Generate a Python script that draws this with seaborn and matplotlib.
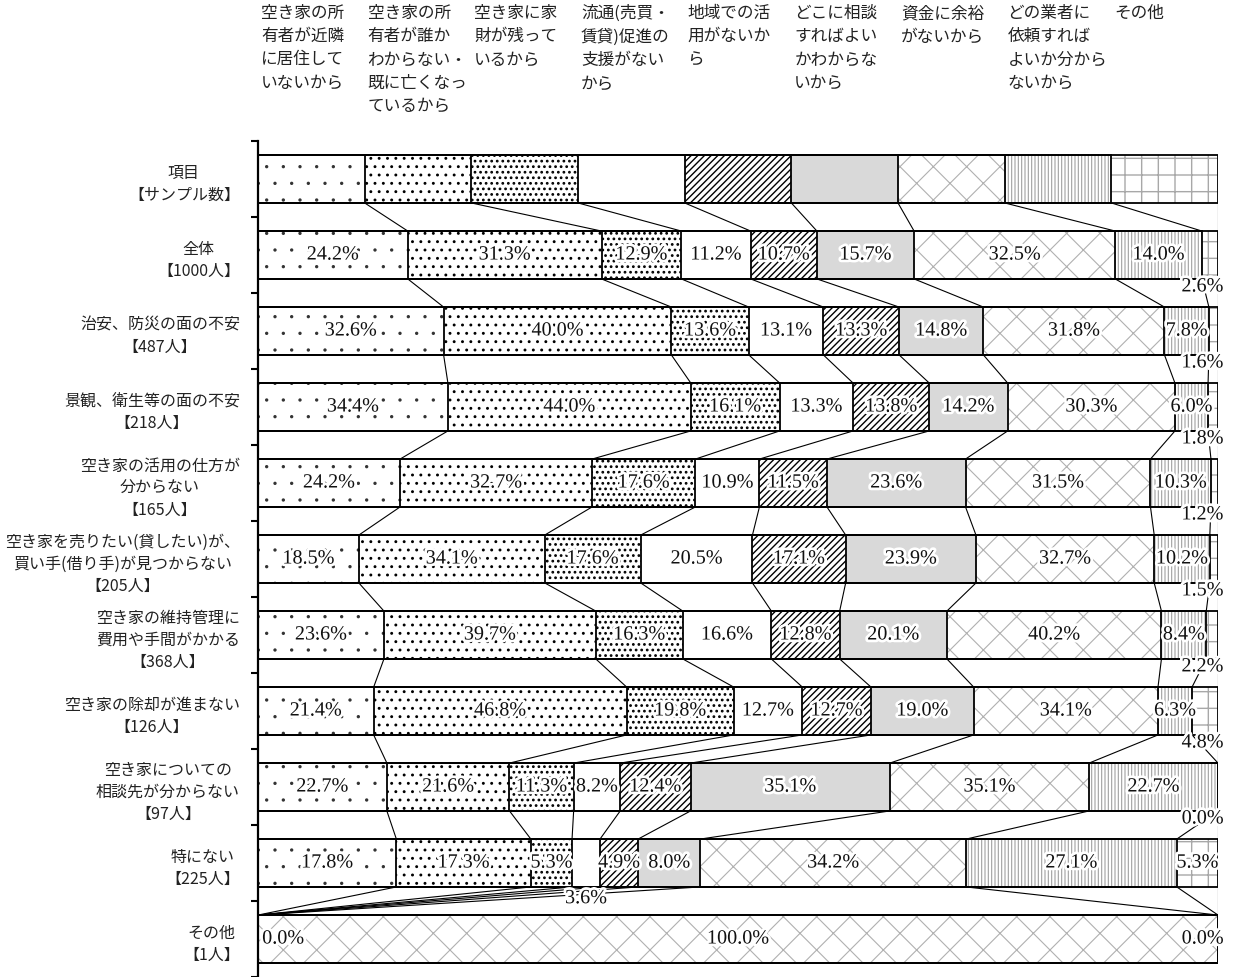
import numpy as np
import pandas as pd
import matplotlib
matplotlib.use('Agg')
import matplotlib.pyplot as plt
import matplotlib.patheffects as pe
import matplotlib.transforms as mtransforms
import seaborn as sns

# column headers (reasons)
header_labels = [
    '空き家の所\n有者が近隣\nに居住して\nいないから',
    '空き家の所\n有者が誰か\nわからない・\n既に亡くなっ\nているから',
    '空き家に家\n財が残って\nいるから',
    '流通(売買・\n賃貸)促進の\n支援がない\nから',
    '地域での活\n用がないか\nら',
    'どこに相談\nすればよい\nかわからな\nいから',
    '資金に余裕\nがないから',
    'どの業者に\n依頼すれば\nよいか分から\nないから',
    'その他',
]

row_labels = [
    '項目\n【サンプル数】',
    '全体\n【1000人】',
    '治安、防災の面の不安\n【487人】',
    '景観、衛生等の面の不安\n【218人】',
    '空き家の活用の仕方が\n分からない\n【165人】',
    '空き家を売りたい(貸したい)が、\n買い手(借り手)が見つからない\n【205人】',
    '空き家の維持管理に\n費用や手間がかかる\n【368人】',
    '空き家の除却が進まない\n【126人】',
    '空き家についての\n相談先が分からない\n【97人】',
    '特にない\n【225人】',
    'その他\n【1人】',
]

# legend row: every item drawn with the same width
legend_row = [1, 1, 1, 1, 1, 1, 1, 1, 1]
zentai = [24.2, 31.3, 12.9, 11.2, 10.7, 15.7, 32.5, 14.0, 2.6]
chian = [32.6, 40.0, 13.6, 13.1, 13.3, 14.8, 31.8, 7.8, 1.6]
keikan = [34.4, 44.0, 16.1, 13.3, 13.8, 14.2, 30.3, 6.0, 1.8]
katsuyou = [24.2, 32.7, 17.6, 10.9, 11.5, 23.6, 31.5, 10.3, 1.2]
uritai = [18.5, 34.1, 17.6, 20.5, 17.1, 23.9, 32.7, 10.2, 1.5]
iji = [23.6, 39.7, 16.3, 16.6, 12.8, 20.1, 40.2, 8.4, 2.2]
jokyaku = [21.4, 46.8, 19.8, 12.7, 12.7, 19.0, 34.1, 6.3, 4.8]
soudan = [22.7, 21.6, 11.3, 8.2, 12.4, 35.1, 35.1, 22.7, 0.0]
tokuni = [17.8, 17.3, 5.3, 3.6, 4.9, 8.0, 34.2, 27.1, 5.3]
sonota = [0.0, 0.0, 0.0, 0.0, 0.0, 0.0, 100.0, 0.0, 0.0]

values = np.array([legend_row, zentai, chian, keikan, katsuyou, uritai,
                   iji, jokyaku, soudan, tokuni, sonota], dtype=float)

fills = ['white', 'white', 'white', 'white', 'white', '#d9d9d9', 'white', 'white', 'white']
hatches = ['.', '..', '...', '', '/////', '', 'x', '|||||', '+']
hatch_cols = ['#333333', 'black', 'black', 'black', 'black', 'black', '#b0b0b0', '#a0a0a0', '#a8a8a8']
hatch_lw = [0.0, 0.9, 1.2, 0.8, 1.0, 0.8, 0.8, 0.8, 1.0]

sns.set_theme(style='ticks')
plt.rcParams['font.family'] = ['Noto Sans CJK JP', 'DejaVu Sans']

fig = plt.figure(figsize=(12.36, 9.78), dpi=100)
ax = fig.add_axes([258 / 1236, 0, 960 / 1236, 836 / 978])

n = len(row_labels)
share = values / values.sum(axis=1, keepdims=True) * 100
cum = share.cumsum(axis=1)
bar_h = 0.63

# stacked bars: draw cumulative ends from the last segment to the first
for k in range(8, -1, -1):
    plt.rcParams['hatch.linewidth'] = hatch_lw[k]
    df = pd.DataFrame({'row': row_labels, 'end': cum[:, k]})
    sns.barplot(data=df, x='end', y='row', order=row_labels, orient='h',
                width=bar_h, errorbar=None, ax=ax)
    for p in ax.containers[-1]:
        p.set_facecolor(fills[k])
        p.set_hatch(hatches[k])
        p.set_edgecolor(hatch_cols[k])
        p.set_linewidth(0)
        if hasattr(p, 'set_hatch_linewidth'):
            p.set_hatch_linewidth(hatch_lw[k])

# outlines
for k in range(9):
    df = pd.DataFrame({'row': row_labels, 'end': cum[:, k]})
    sns.barplot(data=df, x='end', y='row', order=row_labels, orient='h',
                width=bar_h, errorbar=None, ax=ax)
    for p in ax.containers[-1]:
        p.set_facecolor('none')
        p.set_edgecolor('black')
        p.set_linewidth(1.3)

# connector lines between neighbouring bars
h = bar_h / 2
for i in range(n - 1):
    for k in range(9):
        ax.plot([cum[i, k], cum[i + 1, k]], [i + h, i + 1 - h], color='black', lw=0.8, zorder=1)

# value labels
halo = [pe.withStroke(linewidth=4, foreground='white')]
num_kw = dict(family=['Liberation Serif'], fontsize=14.5, color='#111111', path_effects=halo, zorder=5)
for i in range(1, n):
    for k in range(9):
        v = values[i, k]
        w = share[i, k]
        c = cum[i, k] - w / 2
        txt = f'{v:.1f}%'
        if i == n - 1:
            if k == 0:
                ax.annotate(txt, (0, i), xytext=(3, 0), textcoords='offset points',
                            ha='left', va='center', **num_kw)
            elif k == 8:
                ax.annotate(txt, (100, i), xytext=(4, 0), textcoords='offset points',
                            ha='right', va='center', **num_kw)
            elif v > 0:
                ax.text(c, i, txt, ha='center', va='center', **num_kw)
            continue
        if w >= 3.2:
            ax.text(c, i, txt, ha='center', va='center', **num_kw)
        elif k == 8:
            ax.annotate(txt, (100, i + 0.42), xytext=(4, 0), textcoords='offset points',
                        ha='right', va='center', **num_kw)
        else:
            ax.text(c, i + 0.47, txt, ha='center', va='center', **num_kw)

# column headers
trans = mtransforms.blended_transform_factory(ax.transData, fig.transFigure)
for k, lab in enumerate(header_labels):
    ax.text(k * 100 / 9 + 0.3, 1 - 5 / 978, lab, transform=trans, ha='left', va='top',
            fontsize=12, linespacing=1.48, color='#222222')

ax.set_xlim(0, 100)
ax.set_ylim(n - 0.5, -0.5)
ax.set_xlabel('')
ax.set_ylabel('')
ax.set_xticks([])
ax.set_yticks(range(n))
ax.set_yticklabels(row_labels, fontsize=11.5, linespacing=1.4, multialignment='center', color='#222222')
ax.tick_params(axis='y', which='major', length=0, pad=13)
ax.set_yticks(np.arange(n + 1) - 0.5, minor=True)
ax.tick_params(axis='y', which='minor', left=True, length=5, width=1.5, direction='out', color='black')
for s in ['top', 'right', 'bottom']:
    ax.spines[s].set_visible(False)
ax.spines['left'].set_linewidth(1.6)
ax.spines['left'].set_color('black')

fig.savefig('out.png', dpi=100)
